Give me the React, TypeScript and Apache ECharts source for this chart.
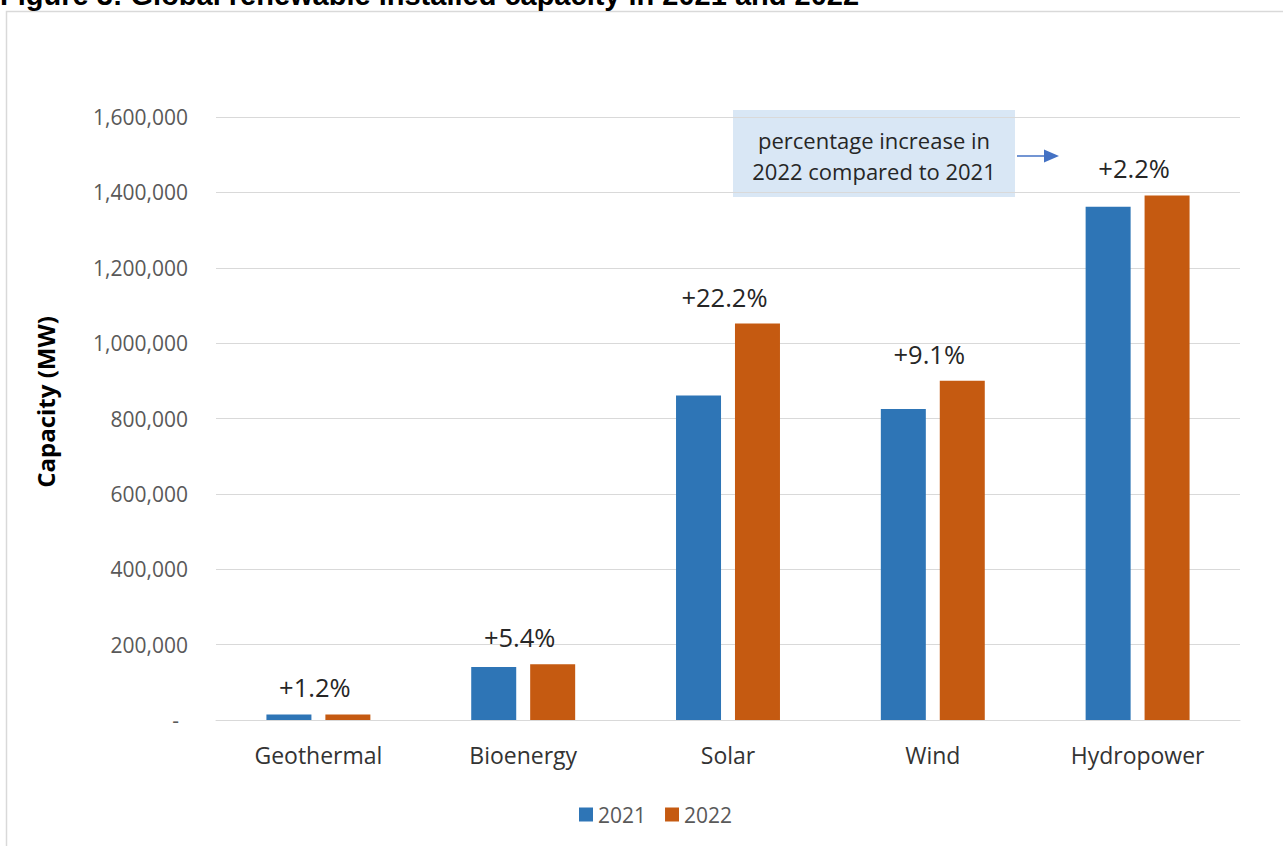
import React, { useEffect, useRef } from "react";
import * as echarts from "echarts";

// Installed capacity by technology (MW)
const categories = ["Geothermal", "Bioenergy", "Solar", "Wind", "Hydropower"];
const capacity2021 = [14500, 140600, 861000, 825000, 1362000];
const capacity2022 = [14680, 148200, 1052000, 900000, 1392000];
const seriesNames = ["2021", "2022"];
const yTicks = { min: 0, max: 1600000, interval: 200000 };

const titleText = "Figure 3: Global renewable installed capacity in 2021 and 2022";
const noteLines = ["percentage increase in", "2022 compared to 2021"];

const BLUE = "#2e75b6";
const ORANGE = "#c55a11";
const FONT = "'Open Sans', 'Noto Sans', sans-serif";

function growthLabel(i: number): string {
  const pct = (capacity2022[i] / capacity2021[i] - 1) * 100;
  return "+" + pct.toFixed(1) + "%";
}

export default function App() {
  const ref = useRef<HTMLDivElement>(null);

  useEffect(() => {
    if (!ref.current) return;
    const chart = echarts.init(ref.current, null, { renderer: "svg" });
    chart.setOption({
      animation: false,
      backgroundColor: "#ffffff",
      textStyle: { fontFamily: FONT },
      grid: { left: 216, right: 43, top: 117, bottom: 126, containLabel: false },
      legend: {
        data: seriesNames,
        left: 579,
        top: 804,
        padding: 0,
        icon: "rect",
        itemWidth: 14,
        itemHeight: 14,
        itemGap: 19,
        textStyle: { fontSize: 21, color: "#595959", fontFamily: FONT },
      },
      xAxis: {
        type: "category",
        data: categories,
        axisLine: { lineStyle: { color: "#d9d9d9", width: 1 } },
        axisTick: { show: false },
        axisLabel: { fontSize: 23, color: "#333333", margin: 23, fontFamily: FONT },
      },
      yAxis: {
        type: "value",
        min: yTicks.min,
        max: yTicks.max,
        interval: yTicks.interval,
        axisLine: { show: false },
        axisTick: { show: false },
        splitLine: { lineStyle: { color: "#d9d9d9", width: 1 } },
        axisLabel: {
          fontSize: 21,
          color: "#595959",
          margin: 28,
          fontFamily: FONT,
          formatter: (v: number) =>
            v === 0 ? "{d|-}" : v.toLocaleString("en-US"),
          rich: {
            d: { fontSize: 21, color: "#595959", padding: [0, 9, 0, 0], fontFamily: FONT },
          },
        },
      },
      series: [
        {
          name: seriesNames[0],
          type: "bar",
          data: capacity2021,
          barWidth: 45,
          barGap: "31%",
          itemStyle: { color: BLUE },
        },
        {
          name: seriesNames[1],
          type: "bar",
          data: capacity2022,
          barWidth: 45,
          itemStyle: { color: ORANGE },
          label: {
            show: true,
            position: "top",
            distance: 14,
            offset: [-33, 0],
            fontSize: 25.5,
            color: "#262626",
            fontFamily: FONT,
            formatter: (p: any) => growthLabel(p.dataIndex),
          },
        },
      ],
      graphic: [
        {
          type: "rect",
          shape: { x: 6.5, y: 11.5, width: 1400, height: 900 },
          style: { fill: "none", stroke: "#d9d9d9", lineWidth: 1.5 },
          silent: true,
        },
        {
          type: "text",
          x: 0,
          y: -5,
          style: {
            text: titleText,
            font: "bold 29px 'Liberation Sans', Arial, sans-serif",
            fill: "#000000",
            verticalAlign: "middle",
            align: "left",
          },
        },
        {
          type: "text",
          x: 45,
          y: 402,
          rotation: Math.PI / 2,
          style: {
            text: "Capacity (MW)",
            font: "bold 24px " + FONT,
            fill: "#000000",
            align: "center",
            verticalAlign: "middle",
          },
        },
        {
          type: "rect",
          shape: { x: 733, y: 110, width: 282, height: 87 },
          style: { fill: "#d9e7f5" },
        },
        {
          type: "text",
          x: 874,
          y: 140,
          style: {
            text: noteLines[0],
            font: "22px " + FONT,
            fill: "#262626",
            align: "center",
            verticalAlign: "middle",
          },
        },
        {
          type: "text",
          x: 874,
          y: 171,
          style: {
            text: noteLines[1],
            font: "22px " + FONT,
            fill: "#262626",
            align: "center",
            verticalAlign: "middle",
          },
        },
        {
          type: "line",
          shape: { x1: 1017, y1: 156, x2: 1046, y2: 156 },
          style: { stroke: "#4472c4", lineWidth: 1.5 },
        },
        {
          type: "polygon",
          shape: { points: [[1044, 149.5], [1059, 156], [1044, 162.5]] },
          style: { fill: "#4472c4" },
        },
      ],
    });
    return () => chart.dispose();
  }, []);

  return (
    <div
      ref={ref}
      style={{ position: "fixed", left: 0, top: 0, width: 1283, height: 846, background: "#fff" }}
    />
  );
}
